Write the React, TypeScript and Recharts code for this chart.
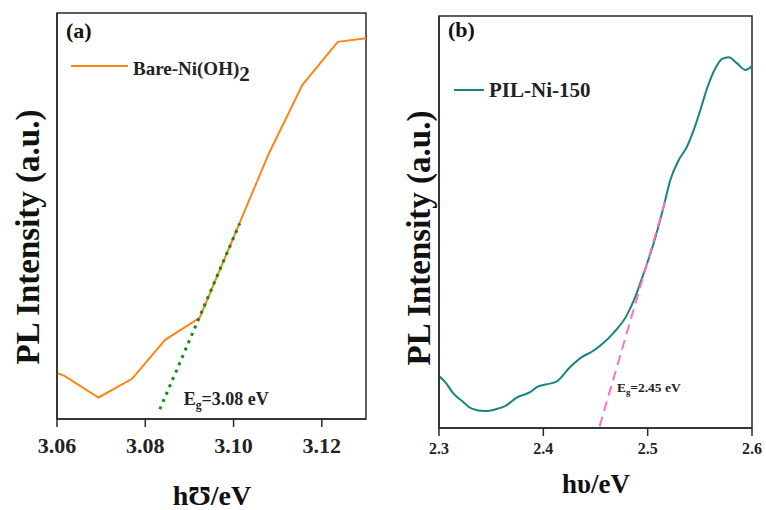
import { LineChart, Line, XAxis, YAxis, ReferenceArea, ReferenceDot, Legend } from "recharts";

// panel (a) bare Ni(OH)2
const bareX = [3.06, 3.0616, 3.0694, 3.077, 3.0845, 3.0923, 3.108, 3.1156, 3.1236, 3.13];
const bareY = [11.3, 10.7, 5.3, 9.9, 19.5, 24.9, 65.4, 82.3, 92.9, 93.8];
const bareFitX = [3.0833, 3.1014];
const bareFitY = [2.4, 48.2];
const ticksA = [3.06, 3.08, 3.1, 3.12];

// panel (b) PIL-Ni-150
const pilX = [
  2.3, 2.3058, 2.3137, 2.3218, 2.3314, 2.3441, 2.3537, 2.3633, 2.3745, 2.3873, 2.3943, 2.4033,
  2.4129, 2.4257, 2.4369, 2.4465, 2.4561, 2.4673, 2.4801, 2.4881, 2.4961, 2.5057, 2.5153, 2.5217,
  2.5297, 2.5377, 2.5441, 2.5505, 2.5569, 2.5649, 2.5713, 2.5777, 2.5857, 2.5937, 2.6,
];
const pilY = [
  12.6, 11.2, 8.4, 6.6, 4.7, 4.1, 4.5, 5.3, 7.4, 8.7, 10.0, 10.6,
  11.3, 14.8, 17.2, 18.5, 20.3, 23.1, 27.4, 31.8, 37.5, 44.8, 53.7, 60.2,
  65.0, 68.3, 72.3, 77.2, 82.4, 87.3, 89.6, 90.0, 88.5, 86.9, 87.9,
];
const pilFitX = [2.4539, 2.5176];
const pilFitY = [0.4, 55.7];
const ticksB = [2.3, 2.4, 2.5, 2.6];

const zip = (xs: number[], ys: number[]) => xs.map((x, i) => ({ x, y: ys[i] }));
const bareData = zip(bareX, bareY);
const bareFit = zip(bareFitX, bareFitY);
const pilData = zip(pilX, pilY);
const pilFit = zip(pilFitX, pilFitY);

const FONT = "'Liberation Serif', 'Times New Roman', serif";
const AXIS = "#2a2a2a";
const ORANGE = "#ff8418";
const TEAL = "#148580";

// axis titles; props named px/py so recharts' injected x/y don't override them
function Title({ px, py, text, size, rotate }: { px: number; py: number; text: string; size: number; rotate?: boolean }) {
  return (
    <text
      x={px}
      y={py}
      textAnchor="middle"
      fontFamily={FONT}
      fontWeight="bold"
      fontSize={size}
      fill="#111"
      transform={rotate ? `rotate(-90 ${px} ${py})` : undefined}
      dominantBaseline={rotate ? "central" : undefined}
    >
      {text}
    </text>
  );
}

function EgLabel(props: any) {
  const { viewBox, text, size } = props;
  return (
    <text x={viewBox.x} y={viewBox.y} fontFamily={FONT} fontWeight="bold" fontSize={size} fill="#222">
      <tspan>E</tspan>
      <tspan fontSize={size * 0.65} dy={size * 0.25}>g</tspan>
      <tspan dy={-size * 0.25}>{text}</tspan>
    </text>
  );
}

function LegendA() {
  return (
    <svg width={383} height={100} style={{ display: "block", overflow: "visible" }}>
      <text x={66} y={38} fontFamily={FONT} fontWeight="bold" fontSize={22} fill="#111">(a)</text>
      <line x1={71} x2={128} y1={66} y2={66} stroke={ORANGE} strokeWidth={2} />
      <text x={133} y={75} fontFamily={FONT} fontWeight="bold" fontSize={19} fill="#222">
        Bare-Ni(OH)<tspan fontSize={21} dy={6}>2</tspan>
      </text>
    </svg>
  );
}

function LegendB() {
  return (
    <svg width={383} height={110} style={{ display: "block", overflow: "visible" }}>
      <text x={65} y={37} fontFamily={FONT} fontWeight="bold" fontSize={22} fill="#111">(b)</text>
      <line x1={71} x2={101} y1={90} y2={90} stroke={TEAL} strokeWidth={2} />
      <text x={106} y={97} fontFamily={FONT} fontWeight="bold" fontSize={21} fill="#222">PIL-Ni-150</text>
    </svg>
  );
}

export default function App() {
  return (
    <div style={{ position: "absolute", left: 0, top: 0, width: 766, height: 510, background: "#fff" }}>
      <div style={{ position: "absolute", left: 0, top: 0 }}>
        <LineChart width={383} height={510} margin={{ top: 13, right: 17, left: 0, bottom: 61 }}>
          <XAxis
            type="number"
            dataKey="x"
            domain={[3.06, 3.13]}
            ticks={ticksA}
            allowDataOverflow
            tickFormatter={(v: number) => v.toFixed(2)}
            height={30}
            tickSize={8}
            tickMargin={10}
            stroke={AXIS}
            strokeWidth={1.5}
            tick={{ fontFamily: FONT, fontWeight: "bold", fontSize: 22, fill: "#222" }}
            label={<Title px={212} py={505} text={"h\u01B1/eV"} size={28} />}
          />
          <YAxis
            type="number"
            dataKey="y"
            domain={[0, 100]}
            allowDataOverflow
            width={57}
            tick={false}
            tickLine={false}
            stroke={AXIS}
            strokeWidth={1.5}
            label={<Title px={28} py={237} text="PL Intensity (a.u.)" size={33} rotate />}
          />
          <ReferenceArea x1={3.06} x2={3.13} y1={0} y2={100} fill="none" stroke={AXIS} strokeWidth={1.5} />
          <Line data={bareData} dataKey="y" type="linear" stroke={ORANGE} strokeWidth={2} dot={false} isAnimationActive={false} />
          <Line data={bareFit} dataKey="y" type="linear" stroke="#138a13" strokeWidth={3} strokeDasharray="3 5" dot={false} isAnimationActive={false} />
          <ReferenceDot x={3.0887} y={3.45} r={0} fill="none" stroke="none" label={<EgLabel text="=3.08 eV" size={18} />} />
          <Legend
            content={() => <LegendA />}
            layout="vertical"
            align="center"
            verticalAlign="middle"
            wrapperStyle={{ position: "absolute", left: 0, top: 0, width: 383, height: 100 }}
          />
        </LineChart>
      </div>
      <div style={{ position: "absolute", left: 383, top: 0 }}>
        <LineChart width={383} height={510} margin={{ top: 16, right: 14, left: 0, bottom: 52 }}>
          <XAxis
            type="number"
            dataKey="x"
            domain={[2.3, 2.6]}
            ticks={ticksB}
            allowDataOverflow
            tickFormatter={(v: number) => v.toFixed(1)}
            height={30}
            tickSize={8}
            tickMargin={7}
            stroke={AXIS}
            strokeWidth={1.5}
            tick={{ fontFamily: FONT, fontWeight: "bold", fontSize: 16, fill: "#222" }}
            label={<Title px={213} py={493} text={"h\u03C5/eV"} size={27} />}
          />
          <YAxis
            type="number"
            dataKey="y"
            domain={[0, 100]}
            allowDataOverflow
            width={56}
            tick={false}
            tickLine={false}
            stroke={AXIS}
            strokeWidth={1.5}
            label={<Title px={36} py={238} text="PL Intensity (a.u.)" size={33} rotate />}
          />
          <ReferenceArea x1={2.3} x2={2.6} y1={0} y2={100} fill="none" stroke={AXIS} strokeWidth={1.5} />
          <Line data={pilData} dataKey="y" type="monotone" stroke={TEAL} strokeWidth={2} dot={false} isAnimationActive={false} />
          <Line data={pilFit} dataKey="y" type="linear" stroke="#ff6ec7" strokeWidth={2} strokeDasharray="10 6" dot={false} isAnimationActive={false} />
          <ReferenceDot x={2.4705} y={8.74} r={0} fill="none" stroke="none" label={<EgLabel text="=2.45 eV" size={13.5} />} />
          <Legend
            content={() => <LegendB />}
            layout="vertical"
            align="center"
            verticalAlign="middle"
            wrapperStyle={{ position: "absolute", left: 0, top: 0, width: 383, height: 110 }}
          />
        </LineChart>
      </div>
    </div>
  );
}
